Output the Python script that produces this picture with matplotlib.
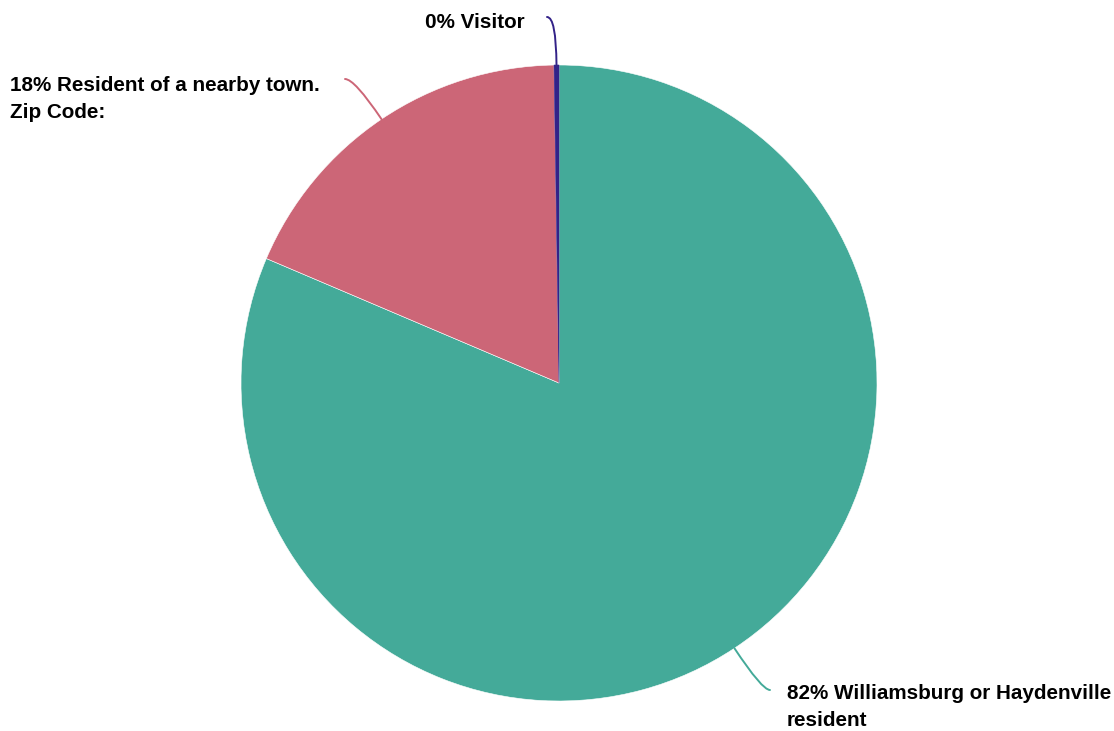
import matplotlib
matplotlib.use("Agg")
import matplotlib.pyplot as plt
import numpy as np

categories = ["Williamsburg or Haydenville\nresident", "Resident of a nearby town.\nZip Code:", "Visitor"]
values = [81.4, 18.35, 0.25]
pct_labels = ["82%", "18%", "0%"]
colors = ["#44AA99", "#CC6677", "#332288"]

W, H = 1114, 731
fig = plt.figure(figsize=(W / 100, H / 100), dpi=100)
ax = fig.add_axes([0, 0, 1, 1])

cx, cy, R = 559, H - 383, 318
wedges, _ = ax.pie(values, colors=colors, startangle=90, counterclock=False,
                   center=(cx, cy), radius=R, frame=True,
                   wedgeprops=dict(edgecolor="white", linewidth=0.4))
wedges[2].set_edgecolor(colors[2])
ax.set_xlim(0, W)
ax.set_ylim(0, H)
ax.set_aspect("equal")
ax.axis("off")

font = dict(family=["Liberation Sans", "DejaVu Sans"], weight="bold", fontsize=14.9, color="black")

# label layout: (connector end point, text position, ha)
layout = [
    ((770, H - 690), (787, H - 707), "left"),
    ((345, H - 79), (10, H - 99), "left"),
    ((547, H - 17), (525, H - 22), "right"),
]
for w, cat, pct, col, (end, tpos, ha) in zip(wedges, categories, pct_labels, colors, layout):
    mid_deg = (w.theta1 + w.theta2) / 2
    mid = np.deg2rad(mid_deg)
    start = (cx + R * np.cos(mid), cy + R * np.sin(mid))
    ax.annotate("", xy=start, xytext=end,
                arrowprops=dict(arrowstyle="-", color=col, lw=1.4,
                                connectionstyle=f"angle3,angleA=0,angleB={mid_deg}",
                                shrinkA=0, shrinkB=0))
    ax.text(tpos[0], tpos[1], f"{pct} {cat}", ha=ha, va="center", linespacing=1.55, **font)

fig.savefig("out.png", dpi=100)
